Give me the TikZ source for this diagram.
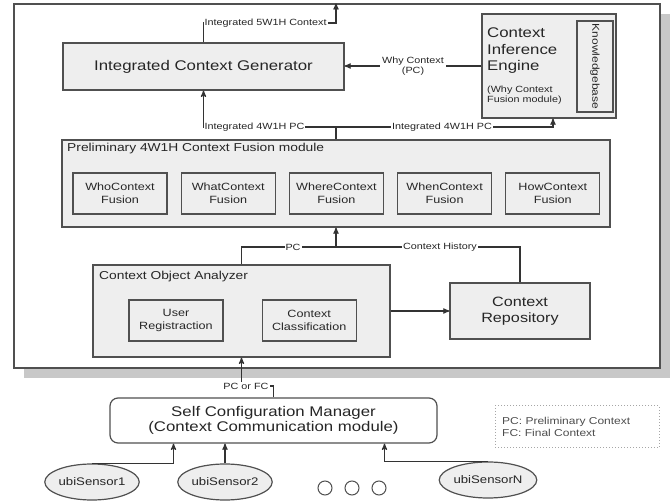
\documentclass[tikz,border=0pt]{standalone}
\usepackage{fontspec}
\setmainfont[FakeStretch=1.2]{Liberation Sans}
\usepackage{xcolor}
\usetikzlibrary{arrows,positioning,shadows,shapes.geometric}

\definecolor{ink}{HTML}{333333}
\definecolor{edge}{HTML}{505050}
\definecolor{boxfill}{HTML}{EEEEEE}
\definecolor{shade}{HTML}{C8C8C8}

\begin{document}
\begin{tikzpicture}[-,>=stealth',x=1pt,y=-1pt,text=black!85]
 \tikzstyle{box}=[draw=edge, fill=boxfill, line width=1.2pt, inner sep=2pt]
 \tikzstyle{subbox}=[box, minimum width=94pt, minimum height=41pt, align=center, font=\fontsize{10.5}{12.5}\selectfont]
 \tikzstyle{title}=[anchor=west, inner sep=0pt, font=\fontsize{11.5}{13}\selectfont]
 \tikzstyle{lbl}=[fill=white, inner sep=1pt, font=\fontsize{9}{10}\selectfont]
 \tikzstyle{sensor}=[ellipse, draw=edge, fill=boxfill, line width=1.2pt, minimum width=88pt, minimum height=36pt, inner sep=0pt, font=\fontsize{11}{13}\selectfont]
 \tikzstyle{gap}=[circle, draw=edge, line width=1pt, minimum size=14pt, inner sep=0pt]
 \tikzstyle{conn}=[draw=ink, line width=1.2pt]

 \useasboundingbox (0,0) rectangle (670,502);

 % outer frame
 \node[draw=edge, fill=white, line width=1.2pt, minimum width=646pt, minimum height=364pt,
       drop shadow={shadow xshift=10pt, shadow yshift=-10pt, fill=shade, opacity=1}] (frame) at (337,186) {};

 \node[box, minimum width=281pt, minimum height=47pt, font=\fontsize{14}{16}\selectfont] (icg) at (203.5,66.5) {Integrated Context Generator};
 \node[box, minimum width=134pt, minimum height=104pt] (cie) at (549,66) {};
 \node[box, rotate=-90, minimum width=91pt, minimum height=36pt, font=\fontsize{10}{12}\selectfont] (kb) at (595,66.5) {Knowledgebase};
 \node[anchor=north west, align=left, inner sep=0pt, font=\fontsize{14}{16.5}\selectfont] (ciename) at (487,28) {Context\\Inference\\Engine};
 \node[anchor=north west, align=left, inner sep=0pt, font=\fontsize{9}{9.5}\selectfont] (ciesub) at (487,86) {(Why Context\\Fusion module)};

 % preliminary fusion
 \node[box, minimum width=548pt, minimum height=87pt] (pre) at (336,183.5) {};
 \node[title] (pretitle) at (67,149) {Preliminary 4W1H Context Fusion module};
 \node[subbox] (who) at (120,193.5) {WhoContext\\Fusion};
 \node[subbox, right=13pt of who] (what) {WhatContext\\Fusion};
 \node[subbox, right=13pt of what] (where) {WhereContext\\Fusion};
 \node[subbox, right=13pt of where] (when) {WhenContext\\Fusion};
 \node[subbox, right=13pt of when] (how) {HowContext\\Fusion};

 % analyzer and repository
 \node[box, minimum width=297pt, minimum height=92pt] (coa) at (241.5,311) {};
 \node[title] (coatitle) at (99,277) {Context Object Analyzer};
 \node[subbox] (user) at (176,320.5) {User\\Registraction};
 \node[subbox, right=38pt of user] (cls) {Context\\Classification};
 \node[box, minimum width=140pt, minimum height=56pt, align=center, font=\fontsize{13.5}{16}\selectfont] (repo) at (520,311) {Context\\Repository};

 % manager, sensors, legend
 \node[draw=edge, fill=white, rounded corners=8pt, line width=1.2pt, minimum width=327pt, minimum height=45pt,
       align=center, font=\fontsize{14}{15}\selectfont] (scm) at (273.5,420.5) {Self Configuration Manager\\(Context Communication module)};
 \node[sensor] (s1) at (92,482) {ubiSensor1};
 \node[sensor] (s2) at (225,482) {ubiSensor2};
 \node[sensor] (sn) at (488,480) {ubiSensorN};
 \node[gap] (dot1) at (325,488) {};
 \node[gap, right=12pt of dot1] (dot2) {};
 \node[gap, right=12pt of dot2] (dot3) {};
 \node[draw=gray!70, dotted, line width=1pt, minimum width=164pt, minimum height=42pt] (legend) at (577,427) {};
 \node[anchor=west, align=left, inner sep=0pt, text=black!70, font=\fontsize{10}{11.5}\selectfont] (legendtext) at (502,427) {PC: Preliminary Context\\FC: Final Context};

 % connectors
 \coordinate (top5) at (336,23);
 \draw[conn,->] (icg.north) |- (top5) -- (top5 |- frame.north);
 \node[lbl, anchor=west] (l5) at (icg.north |- top5) {Integrated 5W1H Context};

 \coordinate (j4) at (336,127);
 \draw[conn] (pre.north) -- (j4);
 \draw[conn,->] (j4) -| (icg.south);
 \draw[conn,->] (j4) -| ([xshift=4pt]cie.south);
 \node[lbl, anchor=west] (l4a) at (icg.south |- j4) {Integrated 4W1H PC};
 \node[lbl] (l4b) at (442,127) {Integrated 4W1H PC};

 \draw[conn,->] (cie.west) -- (icg.east |- cie.west)
   node[lbl, midway, align=center, inner sep=2pt] (lwhy) {Why Context\\(PC)};

 \coordinate (jh) at (336,247);
 \draw[conn] (coa.north) |- (jh);
 \draw[conn] (repo.north) |- (jh);
 \draw[conn,->] (jh) -- (pre.south);
 \node[lbl] (lpc) at (293,247) {PC};
 \node[lbl] (lhist) at (440,247) {Context History};

 \draw[conn,->] (coa.east) -- (repo.west);

 \coordinate (jp) at (241.5,386);
 \draw[conn] (scm.north) |- (jp);
 \draw[conn,->] (jp) -- (coa.south);
 \node[lbl] (lpf) at (246,386) {PC or FC};

 \draw[conn,->] (s1.north) -| ([xshift=-100pt]scm.south);
 \draw[conn,->] (s2.north) -- (s2.north |- scm.south);
 \draw[conn,->] (sn.north) -| ([xshift=111pt]scm.south);
\end{tikzpicture}
\end{document}
